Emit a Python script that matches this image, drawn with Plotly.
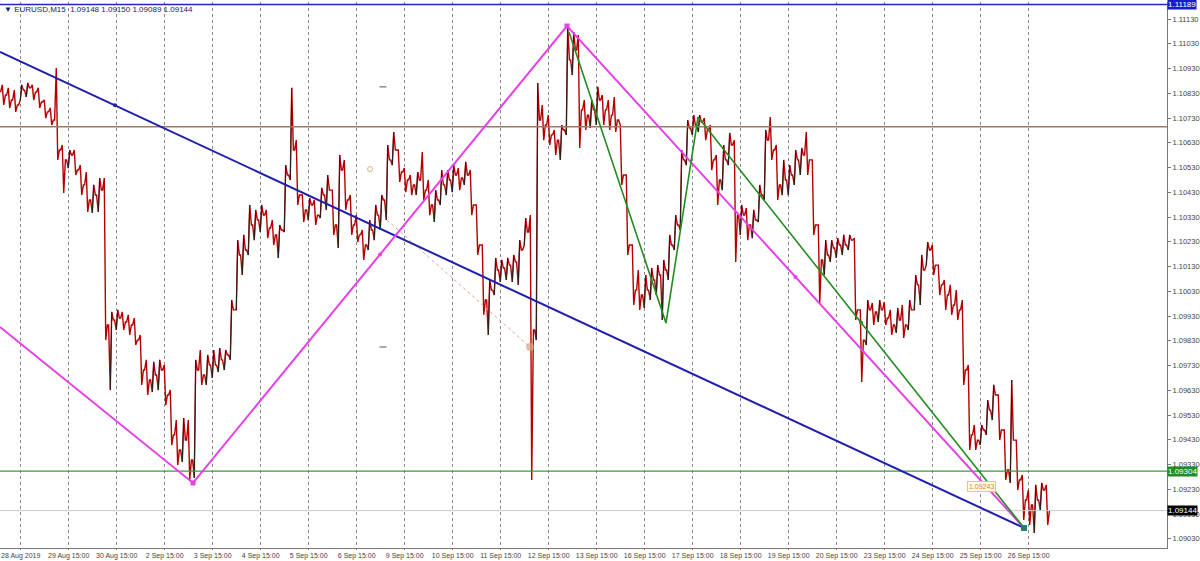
import plotly.graph_objects as go

# ---------------- data (EURUSD M15 chart, resampled to 3-hour bars) ----------------
highs = [1.10864,1.10852,1.10843,1.10864,1.10872,1.10864,1.10852,1.10803,1.10771,1.10932,
         1.10621,1.10601,1.10601,1.10540,1.10512,1.10460,1.10488,1.10488,1.09947,1.09955,
         1.09947,1.09935,1.09922,1.09854,1.09753,1.09745,1.09753,1.09732,1.09631,1.09510,
         1.09518,1.09510,1.09753,1.09793,1.09773,1.09793,1.09801,1.09793,1.09995,1.10237,
         1.10258,1.10379,1.10359,1.10379,1.10359,1.10318,1.10298,1.10540,1.10852,1.10641,
         1.10419,1.10407,1.10399,1.10448,1.10500,1.10439,1.10581,1.10561,1.10419,1.10338,
         1.10278,1.10318,1.10379,1.10419,1.10621,1.10674,1.10601,1.10528,1.10500,1.10512,
         1.10593,1.10480,1.10439,1.10520,1.10520,1.10540,1.10528,1.10553,1.10520,1.10379,
         1.10217,1.10076,1.10165,1.10157,1.10165,1.10177,1.10237,1.10326,1.10338,1.10872,
         1.10783,1.10742,1.10682,1.10702,1.11102,1.11078,1.11066,1.10803,1.10803,1.10856,
         1.10823,1.10803,1.10815,1.10702,1.10500,1.10217,1.10116,1.10096,1.10124,1.10136,
         1.10157,1.10258,1.10338,1.10601,1.10722,1.10742,1.10742,1.10730,1.10702,1.10581,
         1.10621,1.10670,1.10641,1.10379,1.10367,1.10359,1.10460,1.10682,1.10734,1.10621,
         1.10561,1.10540,1.10601,1.10609,1.10674,1.10561,1.10298,1.10237,1.10237,1.10245,
         1.10258,1.10258,1.10245,1.09955,1.09995,1.09983,1.09995,1.09987,1.09955,1.09963,
         1.09975,1.09995,1.10096,1.10177,1.10229,1.10217,1.10136,1.10076,1.10056,1.10035,
         1.09995,1.09732,1.09490,1.09490,1.09591,1.09652,1.09611,1.09470,1.09672,1.09429,
         1.09288,1.09227,1.09248,1.09256,1.09248]
lows = [1.10783,1.10771,1.10755,1.10803,1.10815,1.10803,1.10771,1.10730,1.10702,1.10561,
        1.10427,1.10528,1.10500,1.10419,1.10351,1.10347,1.10351,1.09833,1.09631,1.09874,
        1.09874,1.09854,1.09813,1.09652,1.09611,1.09623,1.09631,1.09570,1.09409,1.09328,
        1.09341,1.09268,1.09276,1.09652,1.09652,1.09680,1.09704,1.09712,1.09753,1.09955,
        1.10096,1.10177,1.10237,1.10270,1.10245,1.10217,1.10165,1.10270,1.10480,1.10379,
        1.10310,1.10318,1.10298,1.10326,1.10359,1.10258,1.10205,1.10359,1.10258,1.10229,
        1.10157,1.10197,1.10237,1.10278,1.10318,1.10540,1.10472,1.10431,1.10419,1.10419,
        1.10399,1.10338,1.10310,1.10379,1.10419,1.10431,1.10439,1.10460,1.10338,1.10177,
        1.09935,1.09854,1.10015,1.10068,1.10076,1.10068,1.10056,1.10217,1.09268,1.09833,
        1.10641,1.10621,1.10581,1.10561,1.10662,1.10904,1.10609,1.10682,1.10690,1.10702,
        1.10702,1.10682,1.10674,1.10460,1.10177,1.09975,1.09955,1.09963,1.09995,1.10015,
        1.09914,1.10076,1.10197,1.10278,1.10540,1.10662,1.10674,1.10641,1.10520,1.10379,
        1.10439,1.10540,1.10149,1.10258,1.10237,1.10245,1.10310,1.10399,1.10561,1.10399,
        1.10419,1.10419,1.10460,1.10500,1.10500,1.10258,1.09983,1.10096,1.10149,1.10165,
        1.10177,1.10197,1.09914,1.09664,1.09813,1.09894,1.09906,1.09894,1.09854,1.09862,
        1.09842,1.09874,1.09955,1.09975,1.10136,1.10096,1.10015,1.09955,1.09935,1.09914,
        1.09652,1.09389,1.09389,1.09409,1.09450,1.09510,1.09429,1.09268,1.09256,1.09227,
        1.09106,1.09086,1.09054,1.09147,1.09086]
closes = [1.10823,1.10803,1.10783,1.10843,1.10852,1.10835,1.10795,1.10755,1.10722,1.10601,
          1.10561,1.10581,1.10520,1.10460,1.10399,1.10419,1.10439,1.09894,1.09914,1.09922,
          1.09906,1.09894,1.09833,1.09712,1.09672,1.09692,1.09712,1.09611,1.09450,1.09389,
          1.09429,1.09349,1.09712,1.09692,1.09732,1.09732,1.09753,1.09773,1.09955,1.10177,
          1.10197,1.10298,1.10318,1.10338,1.10286,1.10258,1.10278,1.10500,1.10601,1.10419,
          1.10359,1.10379,1.10338,1.10419,1.10439,1.10298,1.10520,1.10399,1.10298,1.10258,
          1.10217,1.10278,1.10338,1.10399,1.10561,1.10601,1.10512,1.10480,1.10460,1.10480,
          1.10439,1.10379,1.10399,1.10460,1.10480,1.10500,1.10488,1.10500,1.10379,1.10217,
          1.09995,1.10035,1.10116,1.10124,1.10136,1.10149,1.10197,1.10270,1.09874,1.10722,
          1.10702,1.10662,1.10641,1.10682,1.10965,1.11005,1.10763,1.10742,1.10763,1.10803,
          1.10763,1.10742,1.10722,1.10500,1.10217,1.10035,1.10015,1.10035,1.10076,1.10096,
          1.10116,1.10217,1.10298,1.10561,1.10690,1.10702,1.10714,1.10682,1.10561,1.10480,
          1.10561,1.10621,1.10338,1.10338,1.10298,1.10318,1.10419,1.10641,1.10601,1.10460,
          1.10480,1.10500,1.10561,1.10581,1.10561,1.10298,1.10157,1.10177,1.10205,1.10217,
          1.10217,1.10237,1.09955,1.09833,1.09955,1.09947,1.09955,1.09922,1.09894,1.09914,
          1.09894,1.09955,1.10056,1.10116,1.10197,1.10136,1.10056,1.10015,1.09975,1.09955,
          1.09712,1.09450,1.09429,1.09470,1.09550,1.09611,1.09470,1.09308,1.09429,1.09268,
          1.09187,1.09167,1.09187,1.09227,1.09143]
first_open = 1.10835

# time axis labels (one per trading day, 8 bars per day)
tick_labels = ["28 Aug 2019", "29 Aug 15:00", "30 Aug 15:00", "2 Sep 15:00", "3 Sep 15:00",
               "4 Sep 15:00", "5 Sep 15:00", "6 Sep 15:00", "9 Sep 15:00", "10 Sep 15:00",
               "11 Sep 15:00", "12 Sep 15:00", "13 Sep 15:00", "16 Sep 15:00", "17 Sep 15:00",
               "18 Sep 15:00", "19 Sep 15:00", "20 Sep 15:00", "23 Sep 15:00", "24 Sep 15:00",
               "25 Sep 15:00", "26 Sep 15:00"]
first_tick_bar = 2.95
bars_per_day = 8

price_ticks = [1.11130, 1.11030, 1.10930, 1.10830, 1.10730, 1.10630, 1.10530, 1.10430,
               1.10330, 1.10230, 1.10130, 1.10030, 1.09930, 1.09830, 1.09730, 1.09630,
               1.09530, 1.09430, 1.09330, 1.09230, 1.09130, 1.09030]
price_range = [1.08993, 1.11199]
bar_range = [-0.5, 194.0]

# chart objects (horizontal levels and trendlines)
level_blue = 1.11189
level_brown = 1.10695
level_green = 1.09304
level_bid = 1.09144

blue_tl_x = [-0.5, 170.17]
blue_tl_y = [1.10997, 1.09074]
blue_dot_x = [18.67]
blue_dot_y = [1.10782]

magenta_x = [-0.5, 31.67, 94.0, 170.17]
magenta_y = [1.09886, 1.09256, 1.11102, 1.09074]

green_x = [94.33, 110.5, 115.83, 170.17]
green_y = [1.11078, 1.09902, 1.10734, 1.09074]

dotted_x = [64.0, 87.83]
dotted_y = [1.10318, 1.09805]
small_circle_x = [61.17]
small_circle_y = [1.10524]
dash_x = [63.33, 63.33]
dash_y = [1.10856, 1.09805]

tl_label_x = 163.0
tl_label_y = 1.09243
tl_label_text = "1.09243"

title_text = "\u25bc EURUSD,M15  1.09148 1.09150 1.09089 1.09144"

# ---------------- build price path from the bars ----------------
opens = [first_open] + closes[:-1]
path_x, path_y = [], []
up_x, up_y = [], []
for i, (o, h, l, c) in enumerate(zip(opens, highs, lows, closes)):
    first, second = (l, h) if c >= o else (h, l)
    path_x += [i - 0.4, i - 0.12, i + 0.12, i + 0.4]
    path_y += [o, first, second, c]
    if c >= o:
        up_x += [i - 0.12, i + 0.12, None]
        up_y += [l, h, None]

fig = go.Figure()
fig.add_trace(go.Scatter(x=path_x, y=path_y, mode="lines",
                         line=dict(color="#b40000", width=1.4),
                         showlegend=False, hoverinfo="skip"))
fig.add_trace(go.Scatter(x=up_x, y=up_y, mode="lines",
                         line=dict(color="#222222", width=1.0),
                         showlegend=False, hoverinfo="skip"))

# horizontal levels
for lvl, col, w in [(level_blue, "#2424c8", 1.6), (level_brown, "#9c7a62", 1.5),
                    (level_green, "#3c9a3c", 1.2), (level_bid, "#c8c8c8", 1.0)]:
    fig.add_trace(go.Scatter(x=bar_range, y=[lvl, lvl], mode="lines",
                             line=dict(color=col, width=w), showlegend=False, hoverinfo="skip"))

# dotted helper line
fig.add_trace(go.Scatter(x=dotted_x, y=dotted_y, mode="lines",
                         line=dict(color="#e0a090", width=1, dash="dot"),
                         showlegend=False, hoverinfo="skip"))
fig.add_trace(go.Scatter(x=[dotted_x[1]], y=[dotted_y[1]], mode="markers",
                         marker=dict(size=8, color="rgba(230,160,130,0.7)"),
                         showlegend=False, hoverinfo="skip"))
fig.add_trace(go.Scatter(x=small_circle_x, y=small_circle_y, mode="markers",
                         marker=dict(size=5, color="rgba(255,255,255,0)",
                                     line=dict(color="#e0b070", width=1)),
                         showlegend=False, hoverinfo="skip"))
fig.add_trace(go.Scatter(x=dash_x, y=dash_y, mode="markers",
                         marker=dict(symbol="line-ew", size=5, line=dict(color="#555", width=1)),
                         showlegend=False, hoverinfo="skip"))

# trendlines
fig.add_trace(go.Scatter(x=blue_tl_x, y=blue_tl_y, mode="lines",
                         line=dict(color="#1e1eb0", width=2), showlegend=False, hoverinfo="skip"))
fig.add_trace(go.Scatter(x=blue_dot_x, y=blue_dot_y, mode="markers",
                         marker=dict(size=4, color="#1e1eb0"), showlegend=False, hoverinfo="skip"))
fig.add_trace(go.Scatter(x=magenta_x, y=magenta_y, mode="lines",
                         line=dict(color="#e640e6", width=2), showlegend=False, hoverinfo="skip"))
fig.add_trace(go.Scatter(x=green_x, y=green_y, mode="lines",
                         line=dict(color="#218c21", width=1.6), showlegend=False, hoverinfo="skip"))

# midpoint markers and vertex markers
mid_x = [(magenta_x[i] + magenta_x[i + 1]) / 2 for i in (1, 2)] + [(green_x[2] + green_x[3]) / 2]
mid_y = [(magenta_y[i] + magenta_y[i + 1]) / 2 for i in (1, 2)] + [(green_y[2] + green_y[3]) / 2]
fig.add_trace(go.Scatter(x=mid_x, y=mid_y, mode="markers",
                         marker=dict(size=4, color=["#e640e6", "#e640e6", "#218c21"]),
                         showlegend=False, hoverinfo="skip"))
fig.add_trace(go.Scatter(x=[magenta_x[1], magenta_x[2]], y=[magenta_y[1], magenta_y[2]],
                         mode="markers", marker=dict(symbol="square", size=5, color="#e640e6"),
                         showlegend=False, hoverinfo="skip"))
fig.add_trace(go.Scatter(x=[green_x[3]], y=[green_y[3]], mode="markers",
                         marker=dict(symbol="square", size=6, color="#2a7a7a"),
                         showlegend=False, hoverinfo="skip"))

annotations = []
# right-axis price boxes
for lvl, bg in [(level_blue, "#1a1ad0"), (level_green, "#1f8f1f"), (level_bid, "#000000")]:
    annotations.append(dict(x=1.0, xref="paper", y=lvl, yref="y", xanchor="left", yanchor="middle",
                            text=f"{lvl:.5f}", showarrow=False, bgcolor=bg, borderpad=0,
                            font=dict(family="Liberation Sans", size=8, color="white")))
# trendline price label
annotations.append(dict(x=tl_label_x, y=tl_label_y, xref="x", yref="y", text=tl_label_text,
                        showarrow=False, bgcolor="#fffbe8", bordercolor="#e8c870", borderwidth=1,
                        borderpad=1, font=dict(family="Liberation Sans", size=7, color="#d08a20")))
# title
annotations.append(dict(x=0.002, y=1.0, xref="paper", yref="paper", xanchor="left", yanchor="top",
                        text=title_text, showarrow=False,
                        font=dict(family="Liberation Sans", size=8, color="#1a1a6a"), yshift=-1))

fig.update_layout(
    width=1200, height=561,
    margin=dict(l=0, r=33, t=2, b=13, autoexpand=False),
    paper_bgcolor="white", plot_bgcolor="white",
    annotations=annotations,
    xaxis=dict(range=bar_range,
               tickvals=[first_tick_bar + bars_per_day * k for k in range(len(tick_labels))],
               ticktext=tick_labels, tickangle=0, ticklabeloverflow="allow",
               showgrid=True, gridcolor="#8a8a8a",
               griddash="dot", gridwidth=1, zeroline=False, showline=True, linecolor="#777",
               linewidth=1, ticks="outside", ticklen=1, tickcolor="#777",
               tickfont=dict(family="Liberation Sans", size=7, color="#444")),
    yaxis=dict(range=price_range, side="right", tickvals=price_ticks,
               ticktext=[f"{p:.5f}" for p in price_ticks], showgrid=False, zeroline=False,
               showline=True, linecolor="#777", linewidth=1, ticks="outside", ticklen=3,
               tickcolor="#777", tickfont=dict(family="Liberation Sans", size=7.5, color="#444")),
)

fig.write_html("out.html", config={"displayModeBar": False},
               post_script="document.body.style.margin='0';document.body.style.overflow='hidden';")
